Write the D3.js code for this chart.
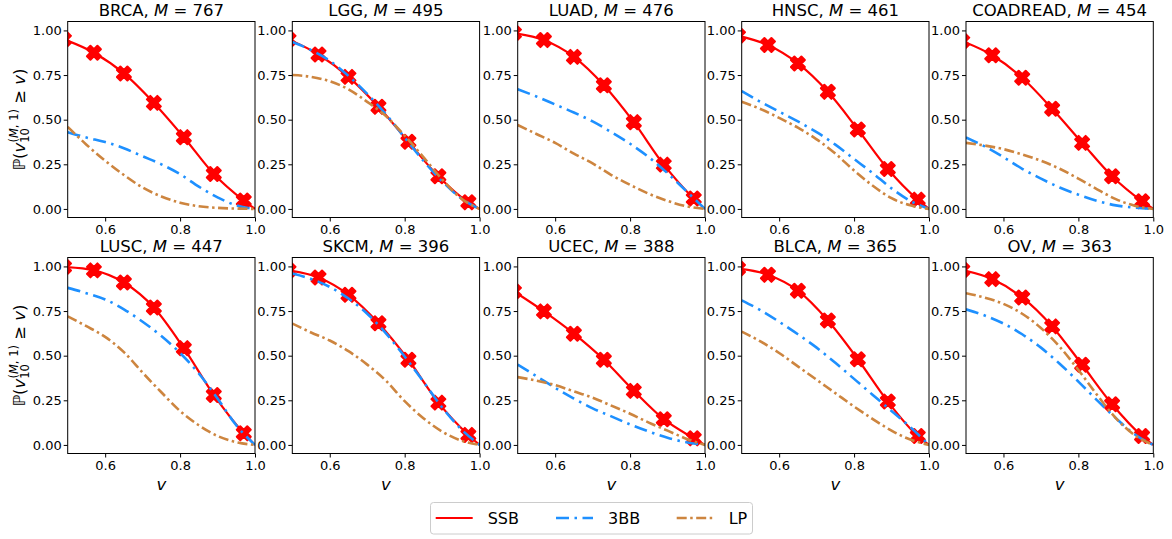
<!DOCTYPE html>
<html>
<head>
<meta charset="utf-8">
<script src="https://cdn.jsdelivr.net/npm/d3@7"></script>
<style>
  body { margin: 0; background: #fff; }
  svg text { font-family: "DejaVu Sans", sans-serif; }
</style>
</head>
<body>
<svg id="chart" width="1172" height="539"></svg>
<script>
// Survival-type curves P(v >= v) for ten cohorts, three methods each.

const cohorts     = ["BRCA", "LGG", "LUAD", "HNSC", "COADREAD", "LUSC", "SKCM", "UCEC", "BLCA", "OV"];
const cohortSizes = [767, 495, 476, 461, 454, 447, 396, 388, 365, 363];

// SSB is sampled at its marker positions (0.49 is clipped at the left edge)
const ssbV = [0.49, 0.57, 0.65, 0.73, 0.81, 0.89, 0.97, 1.0];
const ssbP = [
  [0.950, 0.875, 0.759, 0.594, 0.402, 0.196, 0.047, 0],
  [0.950, 0.865, 0.740, 0.572, 0.376, 0.183, 0.037, 0],
  [0.985, 0.946, 0.852, 0.693, 0.486, 0.248, 0.058, 0],
  [0.970, 0.918, 0.815, 0.656, 0.445, 0.224, 0.052, 0],
  [0.940, 0.861, 0.735, 0.561, 0.370, 0.183, 0.043, 0],
  [0.997, 0.978, 0.910, 0.770, 0.542, 0.280, 0.065, 0],
  [0.978, 0.938, 0.841, 0.682, 0.477, 0.237, 0.056, 0],
  [0.860, 0.748, 0.623, 0.477, 0.303, 0.144, 0.037, 0],
  [0.988, 0.953, 0.864, 0.697, 0.480, 0.243, 0.050, 0],
  [0.980, 0.929, 0.826, 0.664, 0.449, 0.228, 0.050, 0],
];

const gridV = [0.5, 0.55, 0.6, 0.65, 0.7, 0.75, 0.8, 0.85, 0.9, 0.95, 1.0];
const bbP = [
  [0.430, 0.400, 0.375, 0.340, 0.295, 0.250, 0.195, 0.125, 0.065, 0.020, 0],
  [0.935, 0.890, 0.830, 0.745, 0.645, 0.530, 0.400, 0.270, 0.155, 0.060, 0],
  [0.670, 0.630, 0.585, 0.540, 0.490, 0.430, 0.365, 0.290, 0.200, 0.100, 0],
  [0.660, 0.600, 0.545, 0.490, 0.430, 0.360, 0.280, 0.200, 0.115, 0.045, 0],
  [0.400, 0.350, 0.290, 0.225, 0.170, 0.120, 0.080, 0.045, 0.020, 0.007, 0],
  [0.880, 0.850, 0.815, 0.760, 0.690, 0.610, 0.515, 0.400, 0.260, 0.110, 0],
  [0.960, 0.930, 0.885, 0.820, 0.735, 0.625, 0.495, 0.355, 0.210, 0.090, 0],
  [0.450, 0.385, 0.320, 0.260, 0.205, 0.160, 0.115, 0.075, 0.040, 0.015, 0],
  [0.810, 0.755, 0.690, 0.620, 0.545, 0.460, 0.370, 0.280, 0.190, 0.100, 0],
  [0.760, 0.725, 0.680, 0.620, 0.545, 0.455, 0.355, 0.250, 0.150, 0.060, 0],
];
const lpP = [
  [0.460, 0.360, 0.270, 0.190, 0.120, 0.070, 0.035, 0.015, 0.006, 0.002, 0],
  [0.750, 0.740, 0.715, 0.670, 0.600, 0.520, 0.410, 0.290, 0.165, 0.060, 0],
  [0.470, 0.420, 0.370, 0.310, 0.255, 0.190, 0.135, 0.085, 0.045, 0.015, 0],
  [0.600, 0.560, 0.510, 0.455, 0.390, 0.310, 0.215, 0.130, 0.060, 0.020, 0],
  [0.370, 0.355, 0.335, 0.305, 0.270, 0.225, 0.170, 0.110, 0.055, 0.018, 0],
  [0.720, 0.665, 0.605, 0.520, 0.405, 0.295, 0.190, 0.110, 0.050, 0.015, 0],
  [0.680, 0.630, 0.585, 0.525, 0.450, 0.360, 0.245, 0.150, 0.075, 0.025, 0],
  [0.380, 0.360, 0.335, 0.300, 0.265, 0.220, 0.175, 0.125, 0.080, 0.035, 0],
  [0.635, 0.580, 0.515, 0.440, 0.365, 0.290, 0.215, 0.145, 0.080, 0.030, 0],
  [0.850, 0.825, 0.790, 0.735, 0.655, 0.550, 0.420, 0.280, 0.150, 0.055, 0],
];

const xTicks = [0.6, 0.8, 1.0];
const yTicks = [0, 0.25, 0.5, 0.75, 1.0];

const styles = {
  SSB: { color: "#ff0000", width: 2.2, dash: null },
  "3BB": { color: "#1e90ff", width: 2.6, dash: "13,5.5,2.5,5.5" },
  LP: { color: "#cd853f", width: 2.6, dash: "10,3.5,2.5,3.5" },
};

const colLeft = [67.7, 292.3, 517.7, 741.7, 966];
const rowTop  = [21.5, 257.5];
const pw = 187.3, ph = 196;

const svg = d3.select("#chart");
svg.append("rect").attr("width", 1172).attr("height", 539).attr("fill", "#fff");

const x = d3.scaleLinear().domain([0.5, 1.0]).range([0, pw]);
const y = d3.scaleLinear().domain([-0.048, 1.05]).range([ph, 0]);

// filled "X" marker outline, in marker units
const xMarkPts = [[-1,-2],[0,-1],[1,-2],[2,-1],[1,0],[2,1],[1,2],[0,1],[-1,2],[-2,1],[-1,0],[-2,-1]];
const xMarkPath = "M" + xMarkPts.map(p => (p[0] * 3.5) + "," + (p[1] * 3.5)).join("L") + "Z";

const line = d3.line().x(d => x(d[0])).y(d => y(d[1])).curve(d3.curveMonotoneX);

cohorts.forEach((name, i) => {
  const col = i % 5, row = Math.floor(i / 5);
  const g = svg.append("g").attr("transform", `translate(${colLeft[col]},${rowTop[row]})`);

  const clipId = "clip" + i;
  g.append("clipPath").attr("id", clipId)
    .append("rect").attr("width", pw).attr("height", ph);

  const plot = g.append("g").attr("clip-path", `url(#${clipId})`);

  const ssb = ssbV.map((v, k) => [v, ssbP[i][k]]);
  const bb  = gridV.map((v, k) => [v, bbP[i][k]]);
  const lp  = gridV.map((v, k) => [v, lpP[i][k]]);

  plot.append("path").datum(ssb)
    .attr("d", line).attr("fill", "none")
    .attr("stroke", styles.SSB.color).attr("stroke-width", styles.SSB.width);

  plot.selectAll(".mk").data(ssb.slice(0, -1)).join("path")
    .attr("class", "mk")
    .attr("d", xMarkPath)
    .attr("transform", d => `translate(${x(d[0])},${y(d[1])})`)
    .attr("fill", styles.SSB.color)
    .attr("stroke", styles.SSB.color)
    .attr("stroke-width", 2)
    .attr("stroke-linejoin", "round");

  [[bb, styles["3BB"]], [lp, styles.LP]].forEach(([data, st]) => {
    plot.append("path").datum(data)
      .attr("d", line).attr("fill", "none")
      .attr("stroke", st.color).attr("stroke-width", st.width)
      .attr("stroke-dasharray", st.dash);
  });

  // axes
  const ya = g.append("g")
    .call(d3.axisLeft(y).tickValues(yTicks).tickFormat(d3.format(".2f")).tickSize(4).tickPadding(2));
  const xa = g.append("g").attr("transform", `translate(0,${ph})`)
    .call(d3.axisBottom(x).tickValues(xTicks).tickFormat(d3.format(".1f")).tickSize(4).tickPadding(3));
  [ya, xa].forEach(a => {
    a.select(".domain").remove();
    a.attr("font-family", null).attr("font-size", null);
    a.selectAll("line").attr("stroke", "#000").attr("stroke-width", 1);
    a.selectAll("text").attr("fill", "#000").style("font-size", "13px");
  });

  g.append("rect").attr("width", pw).attr("height", ph)
    .attr("fill", "none").attr("stroke", "#000").attr("stroke-width", 1);

  // title
  const t = g.append("text").attr("x", pw / 2).attr("y", -5.5)
    .attr("text-anchor", "middle").style("font-size", "16.5px");
  t.append("tspan").text(name + ", ");
  t.append("tspan").attr("font-style", "italic").text("M");
  t.append("tspan").text(" = " + cohortSizes[i]);

  // x label only under the bottom row
  if (row === 1) {
    g.append("text").attr("x", pw / 2).attr("y", ph + 36)
      .attr("text-anchor", "middle").attr("font-style", "italic")
      .style("font-size", "16.5px").text("v");
  }

  // y label on the first column
  if (col === 0) {
    const yl = g.append("text")
      .attr("transform", `translate(${25.5 - colLeft[0]},${ph / 2}) rotate(-90)`)
      .attr("text-anchor", "middle").style("font-size", "16.5px");
    yl.append("tspan").text("ℙ(");
    yl.append("tspan").attr("font-style", "italic").text("v");
    yl.append("tspan").attr("dy", 4).style("font-size", "11.5px").text("10");
    yl.append("tspan").attr("dx", -14.5).attr("dy", -11.5).style("font-size", "11.5px").text("(");
    yl.append("tspan").attr("font-style", "italic").style("font-size", "11.5px").text("M");
    yl.append("tspan").style("font-size", "11.5px").text(", 1)");
    yl.append("tspan").attr("dy", 7.5).text(" ≥ ");
    yl.append("tspan").attr("font-style", "italic").text("v");
    yl.append("tspan").text(")");
  }
});

// legend
const legendItems = ["SSB", "3BB", "LP"];
const legendLineX = [435.7, 556, 676.7];
const leg = svg.append("g");
leg.append("rect").attr("x", 430.5).attr("y", 502.5).attr("width", 322).attr("height", 31.5)
  .attr("rx", 3).attr("fill", "#fff").attr("fill-opacity", 0.8)
  .attr("stroke", "#cccccc").attr("stroke-width", 1);
legendItems.forEach((k, j) => {
  const st = styles[k];
  leg.append("line")
    .attr("x1", legendLineX[j]).attr("x2", legendLineX[j] + 37)
    .attr("y1", 518).attr("y2", 518)
    .attr("stroke", st.color).attr("stroke-width", st.width)
    .attr("stroke-dasharray", st.dash);
  leg.append("text").attr("x", legendLineX[j] + 52).attr("y", 518).attr("dy", "0.36em")
    .style("font-size", "16px").text(k);
});
</script>
</body>
</html>
